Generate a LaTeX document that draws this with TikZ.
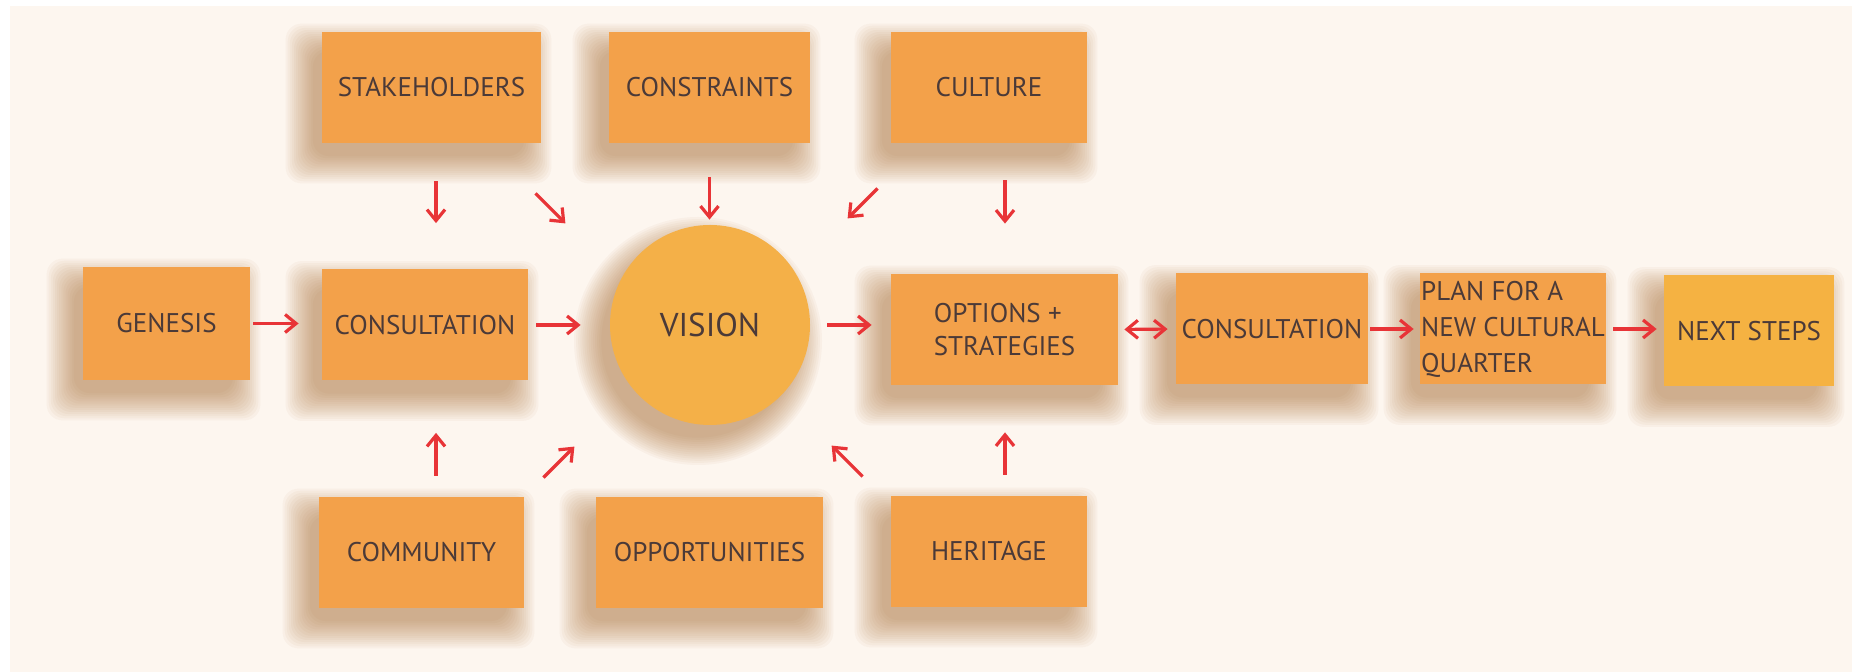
\documentclass[tikz,border=0pt]{standalone}
\usepackage{fontspec}
\setmainfont{PT Sans}
\usetikzlibrary{arrows.meta,calc}
\definecolor{bg}{RGB}{253,246,239}
\definecolor{boxc}{RGB}{243,161,74}
\definecolor{visc}{RGB}{244,176,72}
\definecolor{nextc}{RGB}{245,178,66}
\definecolor{txt}{RGB}{75,58,56}
\definecolor{arrc}{RGB}{232,52,55}
\definecolor{shc}{RGB}{165,100,40}
\pgfdeclarelayer{shadowlayer}
\pgfsetlayers{shadowlayer,main}
\tikzset{
  box/.style={rectangle, fill=boxc, minimum width=#1, minimum height=55.5pt, inner sep=0pt, text=txt, font=\fontsize{13.5}{16.5}\selectfont},
  arr/.style={draw=arrc, line width=1.6pt, -{Straight Barb[length=5.5pt,width=9pt,line width=1.6pt]}},
  darr/.style={draw=arrc, line width=1.6pt, {Straight Barb[length=5.5pt,width=9pt,line width=1.6pt]}-{Straight Barb[length=5.5pt,width=9pt,line width=1.6pt]}},
  shadowlayerfill/.style={fill=shc, opacity=0.045, rounded corners=8pt},
}
\newcommand{\myboxshadow}[1]{%
  \foreach \i in {0,...,13}{%
    \pgfmathsetmacro{\e}{24-2.1*\i}%
    \fill[shadowlayerfill] ($(#1.north west)+(-12-\e,16-\e)$) rectangle ($(#1.south east)+(-14+\e,16+\e)$);
  }%
}
\newcommand{\mycircshadow}[1]{%
  \foreach \i in {0,...,13}{%
    \pgfmathsetmacro{\e}{24-2.1*\i}%
    \fill[shadowlayerfill] ($(#1.center)+(-12,16)$) circle[radius=100+\e];
  }%
}
\begin{document}
\begin{tikzpicture}[x=0.5pt,y=-0.5pt]
\begin{pgfonlayer}{shadowlayer}
\useasboundingbox (0,0) rectangle (1852,672);
\fill[white] (0,0) rectangle (1852,672);
\fill[bg] (10,6) rectangle (1852,672);
\end{pgfonlayer}
% top row
\node[box=109.5pt] (stake) at (431.5,87.5) {STAKEHOLDERS};
\node[box=100.5pt] (constr) at (709.5,87.5) {CONSTRAINTS};
\node[box=98pt] (cult) at (989,87.5) {CULTURE};
% middle row
\node[box=83.5pt, minimum height=56.5pt] (gen) at (166.5,323.5) {GENESIS};
\node[box=103pt] (cons1) at (425,325) {CONSULTATION};
\node[circle, fill=visc, minimum size=100pt, inner sep=0pt, text=txt, font=\fontsize{16.5}{20}\selectfont] (vision) at (710,325) {VISION};
\node[box=113.5pt, align=left] (opt) at (1004.5,329.5) {OPTIONS +\\STRATEGIES};
\node[box=96pt] (cons2) at (1272,329) {CONSULTATION};
\node[box=93pt, align=left, font=\fontsize{13.5}{18}\selectfont] (plan) at (1513,329) {PLAN FOR A\\NEW CULTURAL\\QUARTER};
\node[box=85pt, fill=nextc] (next) at (1749,331) {NEXT STEPS};
% bottom row
\node[box=102.5pt] (comm) at (421.5,552.5) {COMMUNITY};
\node[box=113.5pt] (opp) at (709.5,552.5) {OPPORTUNITIES};
\node[box=98pt] (her) at (989,551.5) {HERITAGE};
% shadows
\begin{pgfonlayer}{shadowlayer}
\foreach \n in {stake,constr,cult,gen,cons1,opt,cons2,plan,next,comm,opp,her}{\myboxshadow{\n}}
\mycircshadow{vision}
\end{pgfonlayer}
% horizontal arrows
\draw[arr, shorten <=1.5pt, shorten >=11.5pt] (gen.east) -- (gen.east -| cons1.west);
\draw[arr, shorten <=4pt, shorten >=14.5pt] (cons1.east) -- (cons1.east -| vision.west);
\draw[arr, shorten <=8.5pt, shorten >=9.5pt] (vision.east) -- (vision.east -| opt.west);
\draw[darr, shorten <=3pt, shorten >=4pt] (opt.east) -- (cons2.west);
\draw[arr, shorten <=1pt, shorten >=3pt] (cons2.east) -- (plan.west);
\draw[arr, shorten <=3.5pt, shorten >=3.5pt] (plan.east) -- (plan.east -| next.west);
% vertical arrows
\draw[arr, shorten <=19pt, shorten >=23pt] ([xshift=2.25pt]stake.south) -- ([xshift=2.25pt]stake.south |- cons1.north);
\draw[arr, shorten <=17pt, shorten >=2.5pt] (constr.south) -- (constr.south |- vision.north);
\draw[arr, shorten <=18.5pt, shorten >=25pt] ([xshift=8pt]cult.south) -- ([xshift=8pt]cult.south |- opt.north);
\draw[arr, shorten <=10.5pt, shorten >=26pt] ([xshift=7.25pt]comm.north) -- ([xshift=7.25pt]comm.north |- cons1.south);
\draw[arr, shorten <=10.5pt, shorten >=23.5pt] ([xshift=8pt]her.north) -- ([xshift=8pt]her.north |- opt.south);
% diagonal arrows
\draw[arr] ([shift={(-3pt,-25pt)}]stake.south east) -- ++(15pt,-15pt);
\draw[arr] ([shift={(-6.5pt,-22.5pt)}]cult.south west) -- ++(-15pt,-15pt);
\draw[arr] ([shift={(9.5pt,9.5pt)}]comm.north east) -- ++(15.5pt,15.5pt);
\draw[arr] ([shift={(-14pt,9.5pt)}]her.north west) -- ++(-15.5pt,15.5pt);
\end{tikzpicture}
\end{document}
